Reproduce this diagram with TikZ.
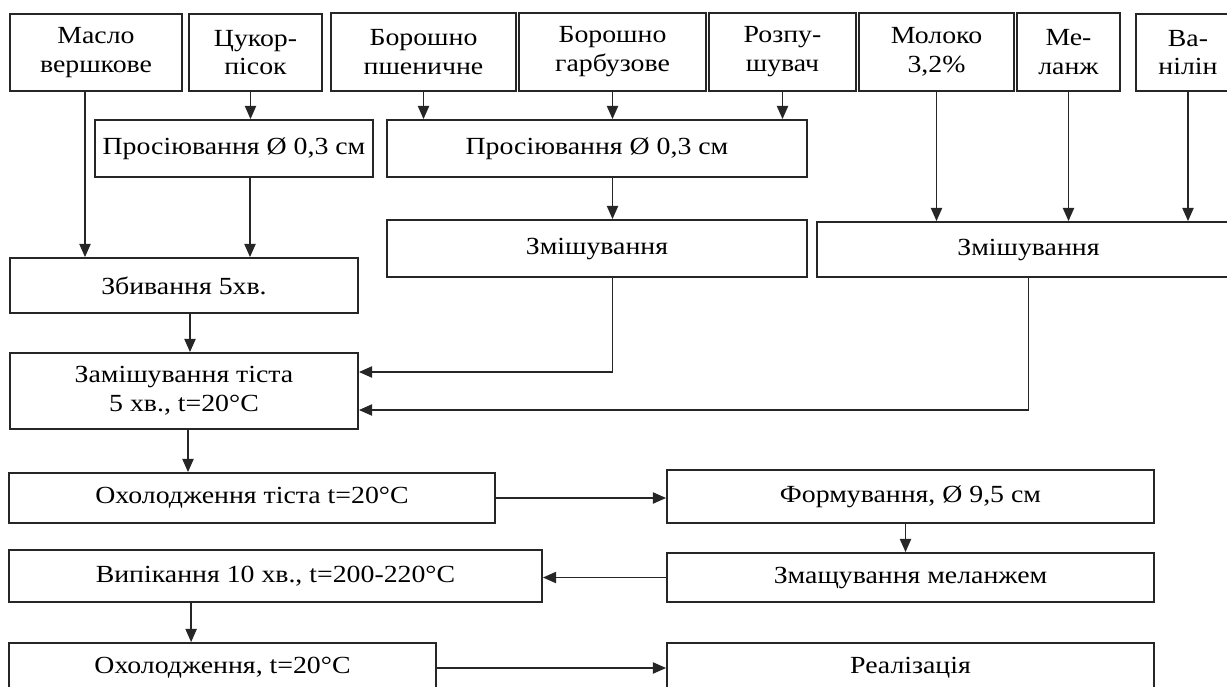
\documentclass[tikz,border=0pt]{standalone}
\usepackage{fontspec}
\setmainfont[FakeStretch=1.13]{Liberation Serif}
\usetikzlibrary{arrows.meta,calc,positioning}
\tikzset{wh/.style 2 args={minimum width=#1*0.025cm, minimum height=#2*0.025cm}}

\begin{document}
\begin{tikzpicture}[x=0.025cm,y=-0.025cm,line width=1.25pt,draw=black!85,->,>={Triangle[length=9.5pt,width=8pt]}]
    \tikzstyle{box}=[draw, rectangle, inner sep=0pt, align=center, font=\fontsize{17.5}{20.5}\selectfont]

\clip (0,0) rectangle (1227,686);

\node[box, wh={172}{77}] (maslo) at (96,52.5) {Масло\\вершкове};
\node[box, wh={133}{77}] (tsukor) at (255.5,52.5) {Цукор-\\пісок};
\node[box, wh={185}{78}] (bpsh) at (423.5,52) {Борошно\\пшеничне};
\node[box, wh={187}{78}] (bharb) at (612.5,52) {Борошно\\гарбузове};
\node[box, wh={147}{78}] (rozp) at (782.5,52) {Розпу-\\шувач};
\node[box, wh={155}{78}] (moloko) at (936.5,52) {Молоко\\3,2\%};
\node[box, wh={103}{78}] (melanzh) at (1068.5,52) {Ме-\\ланж};
\node[box, wh={104}{77}] (vanilin) at (1188,52.5) {Ва-\\нілін};

\node[box, wh={278}{57}] (prosiv1) at (234,148.5) {Просіювання Ø 0,3 см};
\node[box, wh={420}{57}] (prosiv2) at (597,148.5) {Просіювання Ø 0,3 см};
\node[box, wh={420}{57}] (zmish1) at (597,248.5) {Змішування};
\node[box, wh={423}{55}] (zmish2) at (1028.5,249.5) {Змішування};
\node[box, wh={348}{55}] (zbyv) at (184,285.5) {Збивання 5хв.};
\node[box, wh={348}{76}] (zamish) at (184,391) {Замішування тіста\\5 хв., t=20°C};

\node[box, wh={486}{50}] (okhtista) at (252,498) {Охолодження тіста t=20°C};
\node[box, wh={487}{53}] (form) at (910.5,496.5) {Формування, Ø 9,5 см};
\node[box, wh={487}{49}] (zmashch) at (910.5,577.5) {Змащування меланжем};
\node[box, wh={533}{52}] (vypik) at (275.5,576) {Випікання 10 хв., t=200-220°C};
\node[box, wh={427}{50}] (okhol) at (222.5,668) {Охолодження, t=20°C};
\node[box, wh={487}{50}] (realiz) at (910.5,668) {Реалізація};

\draw ($(maslo.south)+(-11,0)$) coordinate (p) -- (p |- zbyv.north);
\draw ($(tsukor.south)+(-5,0)$) coordinate (p) -- (p |- prosiv1.north);
\draw ($(prosiv1.south)+(16,0)$) coordinate (p) -- (p |- zbyv.north);
\draw (bpsh.south) -- (bpsh.south |- prosiv2.north);
\draw (bharb.south) -- (bharb.south |- prosiv2.north);
\draw (rozp.south) -- (rozp.south |- prosiv2.north);
\draw (bharb.south |- prosiv2.south) -- (bharb.south |- zmish1.north);
\draw (moloko.south) -- (moloko.south |- zmish2.north);
\draw (melanzh.south) -- (melanzh.south |- zmish2.north);
\draw (vanilin.south) -- (vanilin.south |- zmish2.north);
\draw (bharb.south |- zmish1.south) |- ($(zamish.east)+(0,-19)$);
\draw (zmish2.south) |- ($(zamish.east)+(0,19)$);
\draw ($(zbyv.south)+(6,0)$) coordinate (p) -- (p |- zamish.north);
\draw ($(zamish.south)+(4,0)$) coordinate (p) -- (p |- okhtista.north);
\draw (okhtista.east) -- (okhtista.east -| form.west);
\draw ($(form.south)+(-5,0)$) coordinate (p) -- (p |- zmashch.north);
\draw (zmashch.west) -- (zmashch.west -| vypik.east);
\draw ($(vypik.south west)+(183,0)$) coordinate (p) -- (p |- okhol.north);
\draw (okhol.east) -- (okhol.east -| realiz.west);
\end{tikzpicture}
\end{document}
